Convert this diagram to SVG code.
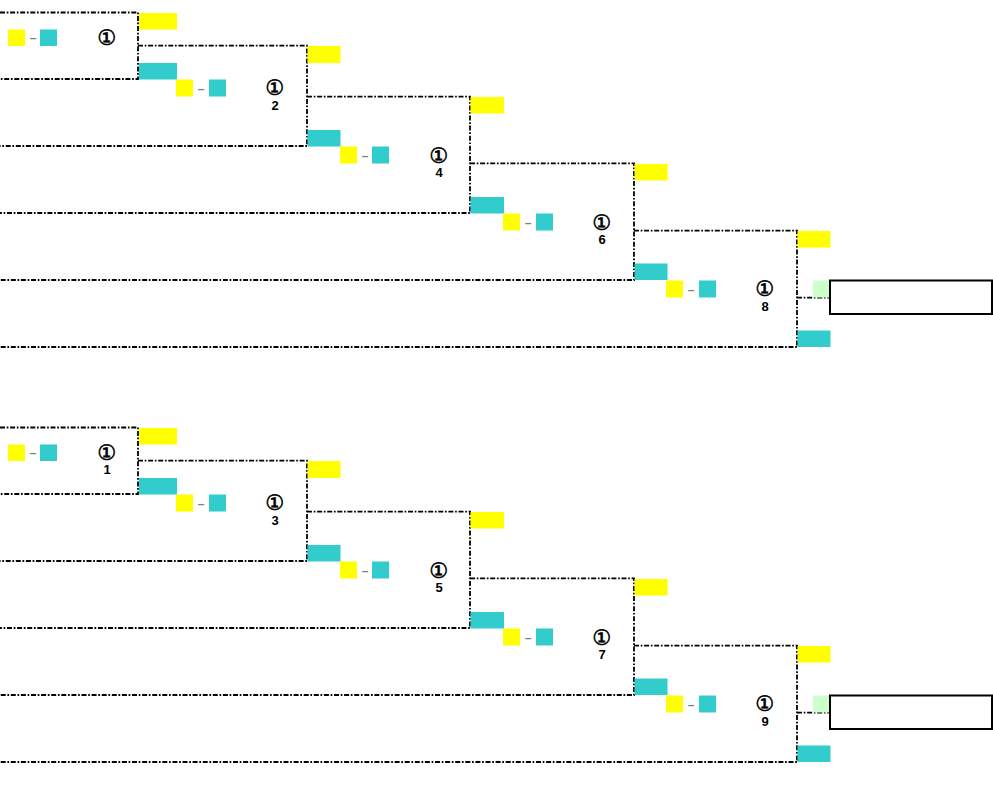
<svg xmlns="http://www.w3.org/2000/svg" width="993" height="798" viewBox="0 0 993 798">
<style>
.ln{fill:none;stroke:#000;stroke-width:1.8;stroke-dasharray:5 1.7 1.7 1.7}
.y{fill:#ffff00}
.t{fill:#33cccc}
.g{fill:#ccffcc}
.box{fill:#fff;stroke:#000;stroke-width:2}
.c{font-family:"DejaVu Sans",sans-serif;font-size:21px;font-weight:normal;text-anchor:middle;fill:#000;stroke:#000;stroke-width:0.6}
.n{font-family:"Liberation Sans",Arial,sans-serif;font-size:13px;font-weight:bold;text-anchor:middle;fill:#000}
.d{font-family:"Liberation Sans",Arial,sans-serif;font-size:12px;font-weight:bold;text-anchor:middle;fill:#808080}
</style>
<defs>
<g id="lines">
<path class="ln" d="M0 12.5H138V79H0"/>
<path class="ln" d="M138 45.7H307V146H0"/>
<path class="ln" d="M307 96.7H470V213H0"/>
<path class="ln" d="M470 163.3H634V280H0"/>
<path class="ln" d="M634 230.7H797V347H0"/>
<path class="ln" d="M797 297.7H829"/>
</g>
<g id="l1">
<rect class="y" x="139" y="13" width="38" height="16.5"/>
<rect class="t" x="139" y="63" width="38" height="16.5"/>
<rect class="y" x="8" y="29.5" width="17" height="16.5"/>
<rect class="t" x="40" y="29.5" width="17" height="16.5"/>
<text class="d" x="33" y="41.5">–</text>
<text class="c" x="107" y="44.5">①</text>
</g>
<g id="l2">
<rect class="y" x="307.5" y="46" width="33" height="17"/>
<rect class="t" x="307.5" y="130" width="33" height="16.5"/>
<rect class="y" x="176" y="79.5" width="17" height="17"/>
<rect class="t" x="209" y="79.5" width="17" height="17"/>
<text class="d" x="201" y="92.5">–</text>
<text class="c" x="275" y="94.5">①</text>
</g>
<g id="l3">
<rect class="y" x="470.5" y="97" width="33.5" height="16.5"/>
<rect class="t" x="470.5" y="197" width="33.5" height="16.5"/>
<rect class="y" x="340" y="146.5" width="17" height="17"/>
<rect class="t" x="372" y="146.5" width="17" height="17"/>
<text class="d" x="365" y="159.5">–</text>
<text class="c" x="439" y="162.5">①</text>
</g>
<g id="l4">
<rect class="y" x="634.5" y="164" width="33" height="16.5"/>
<rect class="t" x="634.5" y="263.5" width="33" height="16.5"/>
<rect class="y" x="503" y="213.5" width="17" height="17"/>
<rect class="t" x="536" y="213.5" width="17" height="17"/>
<text class="d" x="528" y="226.5">–</text>
<text class="c" x="602" y="229.5">①</text>
</g>
<g id="l5">
<rect class="y" x="797.5" y="231" width="33" height="16.5"/>
<rect class="t" x="797.5" y="330.5" width="33" height="16.5"/>
<rect class="y" x="666" y="280.5" width="17" height="17"/>
<rect class="t" x="699" y="280.5" width="17" height="17"/>
<text class="d" x="691" y="293.5">–</text>
<text class="c" x="765" y="295.5">①</text>
</g>
<g id="fin">
<rect class="g" x="813" y="280.5" width="16" height="17"/>
<rect class="box" x="830" y="280.5" width="162" height="33.5"/>
</g>
</defs>
<rect width="993" height="798" fill="#fff"/>
<g id="connectors">
<use href="#lines"/>
<use href="#lines" transform="translate(0,415)"/>
</g>
<g id="top-match1"><use href="#l1"/></g>
<g id="top-match2"><use href="#l2"/><text class="n" x="275" y="110">2</text></g>
<g id="top-match4"><use href="#l3"/><text class="n" x="439" y="177">4</text></g>
<g id="top-match6"><use href="#l4"/><text class="n" x="602" y="244">6</text></g>
<g id="top-match8"><use href="#l5"/><text class="n" x="765" y="311">8</text></g>
<g id="top-final"><use href="#fin"/></g>
<g id="bot-match1"><use href="#l1" transform="translate(0,415)"/><text class="n" x="107" y="474">1</text></g>
<g id="bot-match3"><use href="#l2" transform="translate(0,415)"/><text class="n" x="275" y="525">3</text></g>
<g id="bot-match5"><use href="#l3" transform="translate(0,415)"/><text class="n" x="439" y="592">5</text></g>
<g id="bot-match7"><use href="#l4" transform="translate(0,415)"/><text class="n" x="602" y="659">7</text></g>
<g id="bot-match9"><use href="#l5" transform="translate(0,415)"/><text class="n" x="765" y="726">9</text></g>
<g id="bot-final"><use href="#fin" transform="translate(0,415)"/></g>
</svg>
